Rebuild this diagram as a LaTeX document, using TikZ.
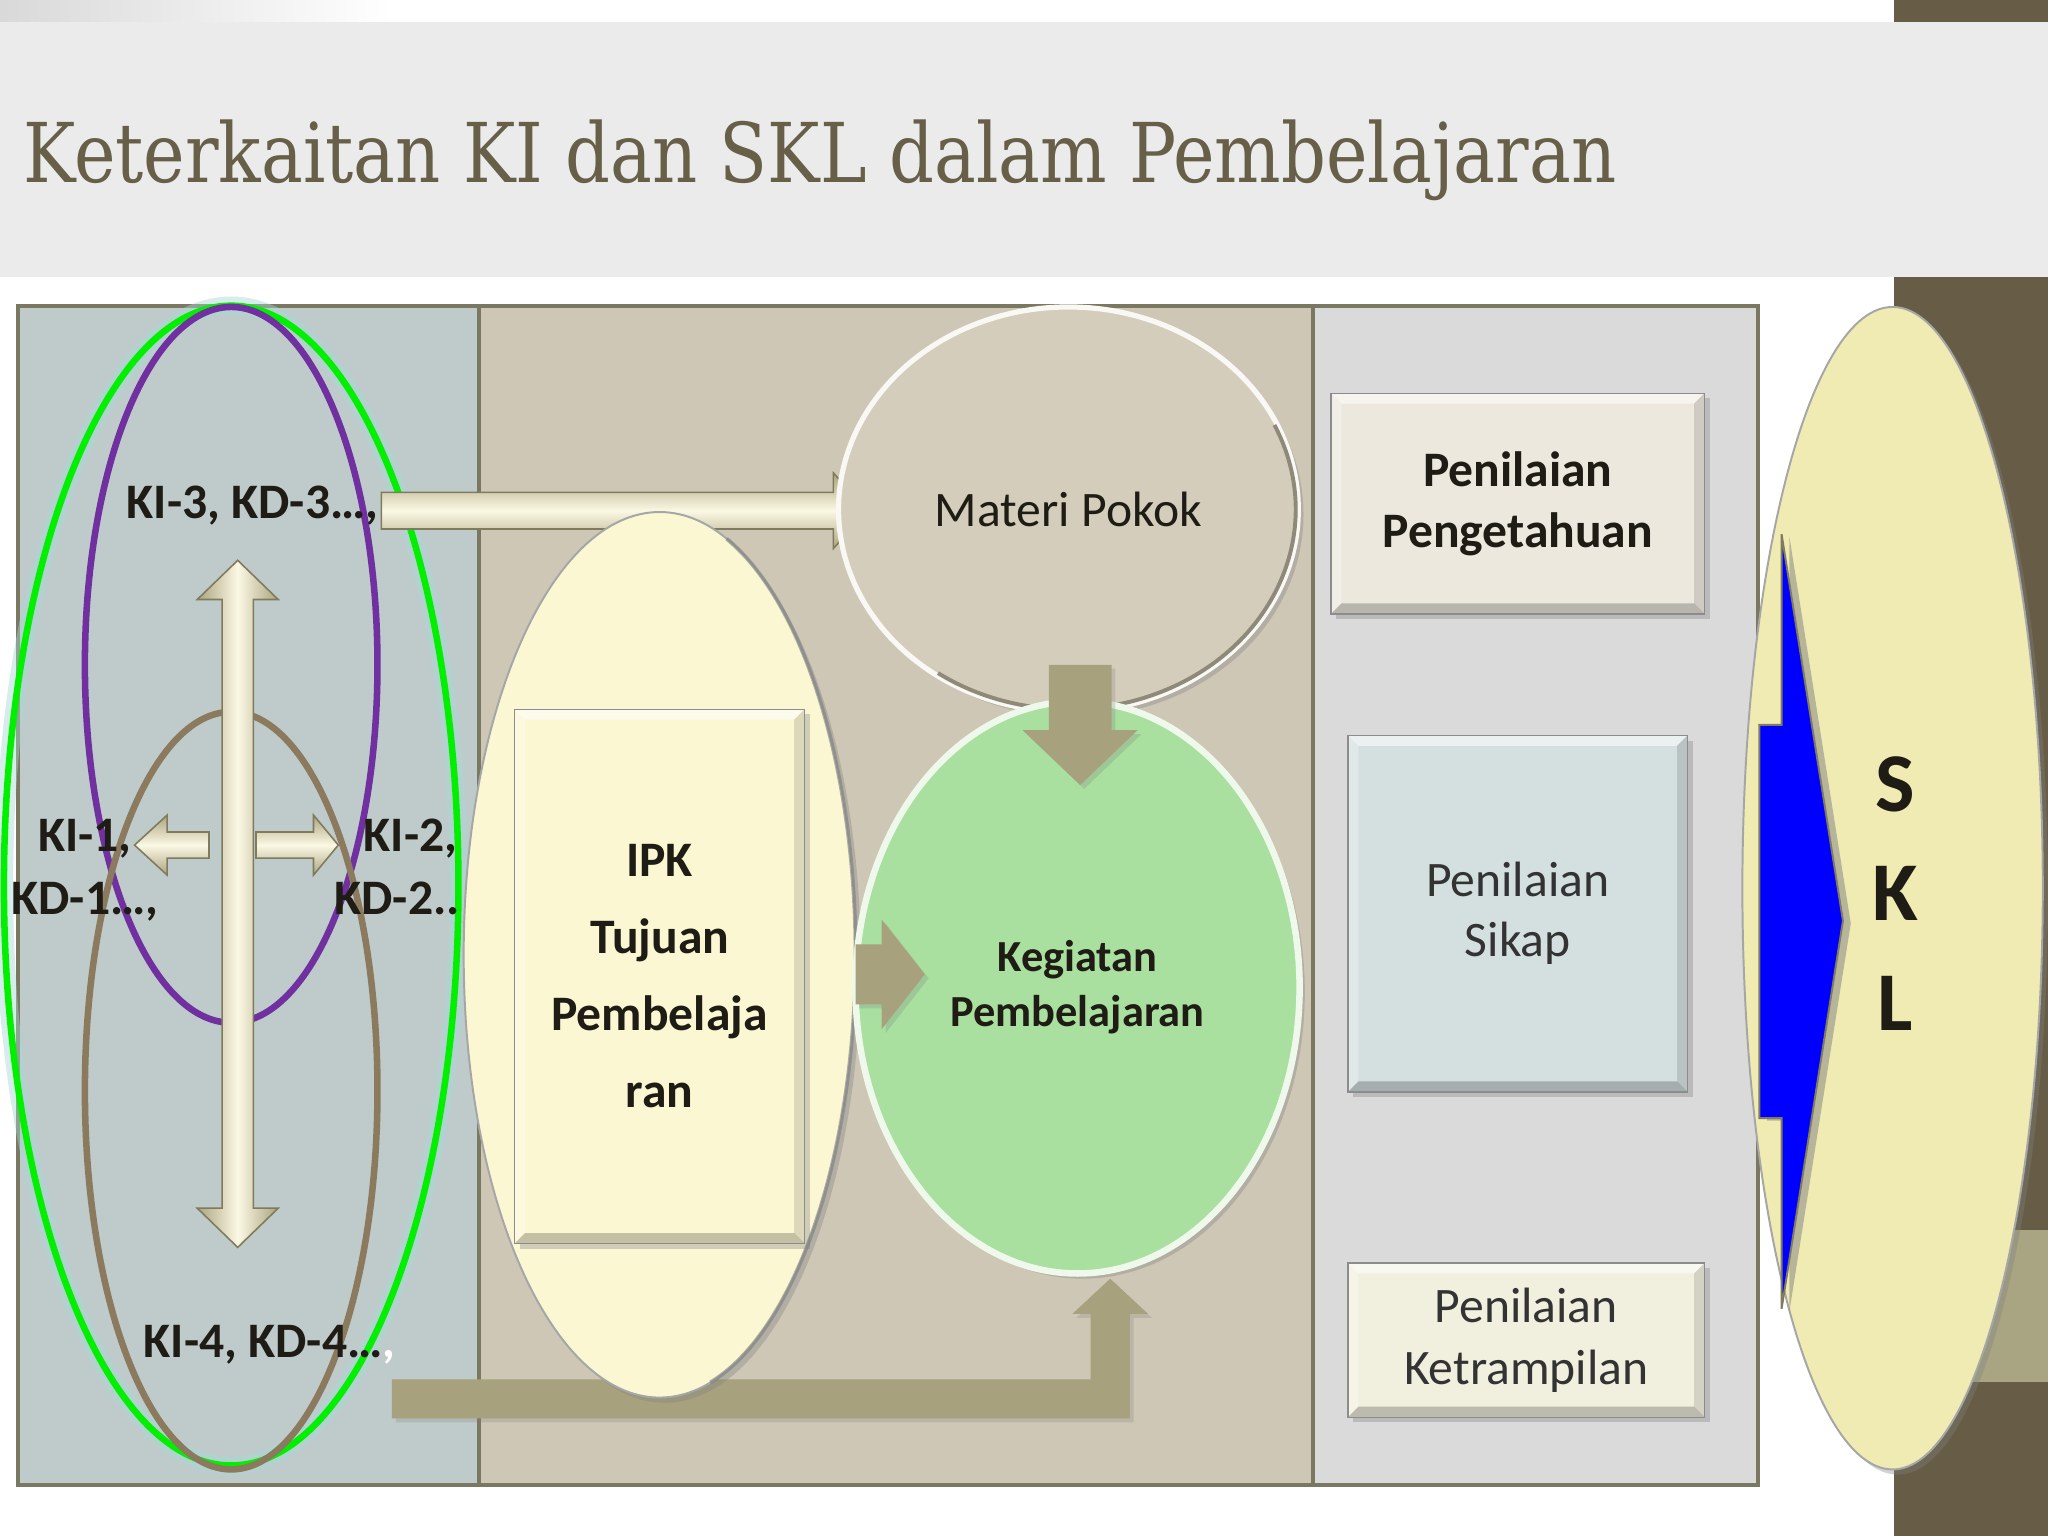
\documentclass[tikz,border=0pt]{standalone}
\usepackage{fontspec}
\setmainfont{Carlito}
\newfontfamily\titlefont{DejaVu Serif}
\usepackage{graphicx}
\usetikzlibrary{shapes.geometric,shadows,calc}

\definecolor{hdr}{HTML}{EBEBEB}
\definecolor{band}{HTML}{675D47}
\definecolor{bandlight}{HTML}{A9A582}
\definecolor{titlec}{HTML}{675F48}
\definecolor{framec}{HTML}{7A7860}
\definecolor{pleft}{HTML}{BFCBCA}
\definecolor{pmid}{HTML}{CFC7B6}
\definecolor{pright}{HTML}{DADADA}
\definecolor{kgreen}{HTML}{00F000}
\definecolor{kpurple}{HTML}{7030A0}
\definecolor{kbrown}{HTML}{8C7A5E}
\definecolor{glowc}{HTML}{A6D9D3}
\definecolor{beigeL}{HTML}{FBF8E4}
\definecolor{beigeD}{HTML}{ABA47F}
\definecolor{beigeO}{HTML}{7F7B5B}
\definecolor{khaki}{HTML}{A7A17D}
\definecolor{cream}{HTML}{FBF7D3}
\definecolor{materic}{HTML}{D4CDBB}
\definecolor{materid}{HTML}{8E8978}
\definecolor{kegc}{HTML}{A9DF9F}
\definecolor{boxA}{HTML}{ECE8DD}
\definecolor{boxB}{HTML}{D4DFDF}
\definecolor{boxC}{HTML}{F1F0DE}
\definecolor{sklc}{HTML}{F0EBB3}
\definecolor{txtc}{HTML}{1E1C14}
\definecolor{graytxt}{HTML}{333333}

\newcommand{\mybevel}[2]{%
  \fill[white,opacity=.55] (#1.north west) -- (#1.north east) -- ($(#1.north east)+(-#2,#2)$) -- ($(#1.north west)+(#2,#2)$) -- cycle;
  \fill[white,opacity=.3] (#1.north west) -- ($(#1.north west)+(#2,#2)$) -- ($(#1.south west)+(#2,-#2)$) -- (#1.south west) -- cycle;
  \fill[black,opacity=.22] (#1.south west) -- (#1.south east) -- ($(#1.south east)+(-#2,-#2)$) -- ($(#1.south west)+(#2,-#2)$) -- cycle;
  \fill[black,opacity=.12] (#1.north east) -- (#1.south east) -- ($(#1.south east)+(-#2,-#2)$) -- ($(#1.north east)+(-#2,#2)$) -- cycle;
  \draw[black!45,line width=1pt] (#1.north west) rectangle (#1.south east);
}

\tikzset{
  every node/.style={inner sep=0pt, outer sep=0pt},
  shd/.style={drop shadow={opacity=.35, shadow xshift=4pt, shadow yshift=-4pt}},
  ring/.style={ellipse, line width=5pt},
  glowring/.style={ellipse, line width=14pt, draw=glowc, opacity=.45},
  lbl/.style={font=\bfseries\fontsize{38}{48}\selectfont, text=txtc},
  vbeige/.style={left color=beigeD, right color=beigeD, middle color=beigeL, draw=beigeO, line width=1.2pt},
  hbeige/.style={top color=beigeD, bottom color=beigeD, middle color=beigeL, draw=beigeO, line width=1.2pt},
  khakiarrow/.style={fill=khaki, drop shadow={opacity=.25, shadow xshift=3pt, shadow yshift=-3pt}},
  boxnode/.style={rectangle, minimum width=#1, align=center, shd},
}

\begin{document}
\begin{tikzpicture}[x=1pt,y=-1pt]
\useasboundingbox (0,0) rectangle (1568,1176);
% background
\fill[white] (0,0) rectangle (1568,1176);
\shade[left color=black!15, right color=white] (0,0) rectangle (300,17);
\fill[hdr] (0,17) rectangle (1568,212);
\fill[band] (1450,0) rectangle (1568,17);
\fill[band] (1450,212) rectangle (1568,1176);
\fill[bandlight] (1450,942) rectangle (1568,1058);

% title
\node[anchor=base west, text=titlec] (title) at (18,140)
  {\resizebox{1219pt}{48pt}{\titlefont Keterkaitan KI dan SKL dalam Pembelajaran}};

% panels
\fill[pleft] (14,234) rectangle (367,1137);
\fill[pmid] (367,234) rectangle (1005,1137);
\fill[pright] (1005,234) rectangle (1346,1137);
\draw[framec, line width=3pt] (14,234) rectangle (1346,1137);
\draw[framec, line width=3pt] (367,234) -- (367,1137);
\draw[framec, line width=3pt] (1005,234) -- (1005,1137);

% left panel rings
\node[glowring, minimum width=348pt, minimum height=888pt] (gglow) at (177,678) {};
\node[ring, draw=kgreen, minimum width=348pt, minimum height=888pt] (kiall) at (177,678) {};
\node[ring, draw=kpurple, minimum width=224pt, minimum height=548pt] (kiatas) at (177,509) {};
\node[ring, draw=kbrown, minimum width=224pt, minimum height=580pt] (kibawah) at (177,835) {};

% vertical double arrow and small arrows
\path[vbeige] (182,429) -- (213,459) -- (194,459) -- (194,925) -- (213,925) -- (182,955)
  -- (151,925) -- (170,925) -- (170,459) -- (151,459) -- cycle;
\path[hbeige] (160,637) -- (128,637) -- (128,624) -- (103,647) -- (128,670) -- (128,657) -- (160,657) -- cycle;
\path[hbeige] (196,637) -- (240,637) -- (240,624) -- (259,647) -- (240,670) -- (240,657) -- (196,657) -- cycle;

% labels left panel
\node[lbl, anchor=base west] (ki3) at (97,397) {KI-3, KD-3…,};
\node[lbl, anchor=base] (ki1a) at (65,652) {KI-1,};
\node[lbl, anchor=base] (ki1b) at (65,700) {KD-1…,};
\node[lbl, anchor=base east] (ki2a) at (350,652) {KI-2,};
\node[lbl, anchor=base east] (ki2b) at (352,700) {KD-2..};
\node[lbl, anchor=base west] (ki4) at (110,1039) {KI-4, KD-4…\textcolor{white}{,}};

% elbow arrow from KI-4 to Kegiatan
\path[khakiarrow] (300,1056) -- (835,1056) -- (835,1006) -- (821,1006) -- (850,979) -- (879,1006)
  -- (865,1006) -- (865,1086) -- (300,1086) -- cycle;

% KI-3 arrow to Materi Pokok
\path[hbeige] (292,377) -- (638,377) -- (638,362) -- (664,391) -- (638,420) -- (638,405) -- (292,405) -- cycle;

% IPK ellipse
\node[ellipse, fill=cream, draw=black!35, line width=1.5pt, minimum width=300pt, minimum height=678pt, shd] (ipkell) at (505,731) {};
\draw[black!50, line width=3pt, opacity=.6] (ipkell.center) ++(-70:150 and 339) arc[start angle=-70, end angle=75, x radius=150, y radius=339];
\node[boxnode=222pt, fill=cream, minimum height=409pt, font=\bfseries\fontsize{38}{59}\selectfont, text=txtc] (ipk) at (505,747.5)
  {IPK\\Tujuan\\Pembelaja\\ran};
\mybevel{ipk}{8}

% Materi Pokok and Kegiatan
\node[ellipse, fill=materic, draw=white!85!materic, line width=4pt, minimum width=352pt, minimum height=310pt, shd,
  font=\fontsize{38}{46}\selectfont, text=txtc] (materi) at (818,390) {Materi Pokok};
\draw[materid, line width=3pt] (materi.center) ++(-25:174 and 153) arc[start angle=-25, end angle=125, x radius=174, y radius=153];
\node[ellipse, fill=kegc, draw=white!80!kegc, line width=5pt, minimum width=340pt, minimum height=438pt, shd,
  align=center, font=\bfseries\fontsize{34}{42}\selectfont, text=txtc] (keg) at (825,756) {Kegiatan\\Pembelajaran};
\path[khakiarrow] (803,509) -- (851,509) -- (851,559) -- (871,559) -- (827,601) -- (783,559) -- (803,559) -- cycle;
\path[khakiarrow] (655,723) -- (675,723) -- (675,704) -- (708,746) -- (675,788) -- (675,769) -- (655,769) -- cycle;

% right panel boxes
\node[boxnode=286pt, fill=boxA, minimum height=169pt, font=\bfseries\fontsize{38}{47}\selectfont, text=txtc] (pA) at (1162,385.5)
  {Penilaian\\Pengetahuan};
\mybevel{pA}{8}
\node[boxnode=260pt, fill=boxB, minimum height=273pt, font=\fontsize{38}{46}\selectfont, text=graytxt] (pB) at (1162,699.5)
  {Penilaian\\Sikap};
\mybevel{pB}{8}
\node[boxnode=273pt, fill=boxC, minimum height=118pt, font=\fontsize{38}{47}\selectfont, text=graytxt] (pC) at (1168.5,1026)
  {Penilaian\\Ketrampilan};
\mybevel{pC}{8}

% SKL
\node[ellipse, fill=sklc, draw=black!35, line width=1.5pt, minimum width=230pt, minimum height=890pt, shd] (skl) at (1449,680) {};
\path[fill=blue, draw=beigeO, line width=1.5pt, drop shadow={opacity=.5, shadow xshift=6pt, shadow yshift=-2pt}]
  (1347,555) -- (1364,555) -- (1364,409) -- (1411,705) -- (1364,1002) -- (1364,856) -- (1347,856) -- cycle;
\node[align=center, font=\bfseries\fontsize{64}{84}\selectfont, text=txtc] (skltext) at (1451,684) {S\\K\\L};
\end{tikzpicture}
\end{document}
